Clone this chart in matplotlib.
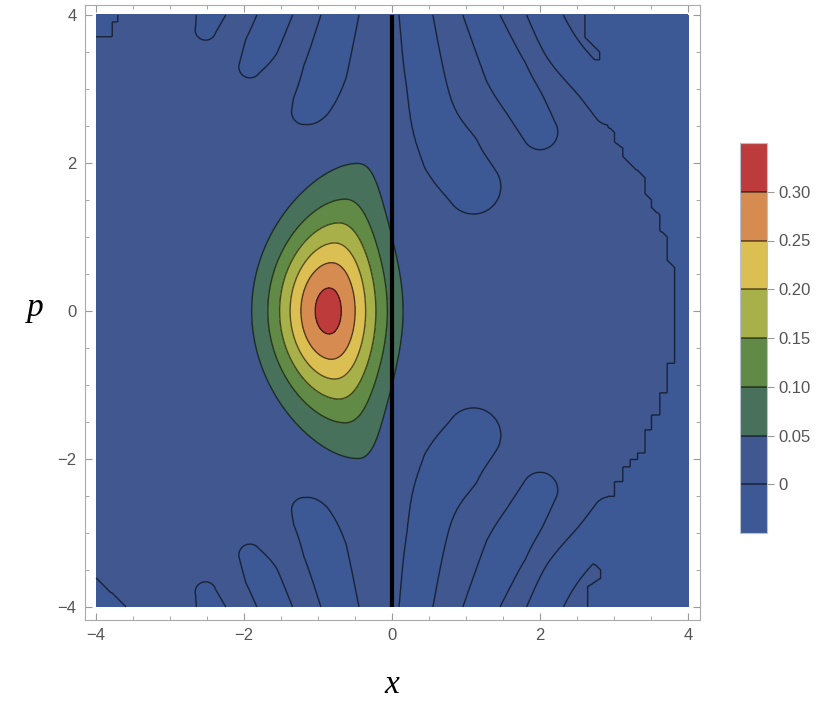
import numpy as np
import matplotlib
matplotlib.use("Agg")
import matplotlib.pyplot as plt
from matplotlib.path import Path
from matplotlib.ticker import MultipleLocator

# contour levels and the colour of each band (lowest band first)
levels = [-0.05, 0.0, 0.05, 0.10, 0.15, 0.20, 0.25, 0.30, 0.35]
band_colors = ['#3c5895', '#40578f', '#48715c', '#608a45',
               '#a8b04a', '#dbbf52', '#d68c50', '#be3b3c']
line_levels = [0.0, 0.05, 0.10, 0.15, 0.20, 0.25, 0.30]
bar_labels = ['0', '0.05', '0.10', '0.15', '0.20', '0.25', '0.30']

# central peak
peak_value = 0.317
peak_x = -0.86
bend = 0.10          # ridge moves to +x with p^2
width_left = 0.58    # x spread left of the ridge
spread_left = 0.05
width_right = 0.55   # x spread right of the ridge
squeeze_right = 0.25
width_p2 = 1.75
tail_p = 0.10

# negative fingers in the upper half (x, p spine points and half widths);
# the lower half is the mirror image in p
finger_spines = [
    [(-2.40, 4.20), (-2.52, 3.80)],
    [(-1.52, 4.15), (-1.76, 3.59), (-1.92, 3.30)],
    [(-0.66, 4.15), (-0.905, 3.23), (-1.07, 2.81), (-1.18, 2.69)],
    [(0.30, 4.15), (0.51, 2.78), (0.80, 2.11), (1.10, 1.68)],
    [(1.135, 4.15), (1.54, 3.23), (1.80, 2.78), (2.00, 2.42)],
    [(1.99, 4.15), (2.30, 3.55), (2.72, 3.05), (2.95, 2.75)],
]
finger_widths = [
    [0.24, 0.14],
    [0.22, 0.23, 0.15],
    [0.24, 0.30, 0.27, 0.18],
    [0.22, 0.30, 0.40, 0.37],
    [0.22, 0.29, 0.27, 0.24],
    [0.22, 0.24, 0.24, 0.24],
]

# jagged zero line on the right (region to its right is below zero)
stair_x = [2.61, 2.61, 2.81, 2.81, 2.71, 2.61, 2.81, 2.81, 2.81, 2.92, 2.92,
           3.01, 3.01, 3.12, 3.12, 3.42, 3.42, 3.51, 3.51, 3.62, 3.62, 3.72,
           3.72, 3.82, 3.82, 3.72, 3.72, 3.62, 3.62, 3.51, 3.51, 3.42, 3.42,
           3.32, 3.32, 3.22, 3.22, 3.12, 3.12, 3.01, 3.01, 2.92, 2.92, 2.72,
           2.72, 2.81, 2.82, 2.72, 2.72, 2.82, 2.82, 2.64, 2.64]
stair_p = [4.2, 3.69, 3.50, 3.39, 3.39, 3.30, 2.99, 2.81, 2.69, 2.61, 2.49,
           2.41, 2.28, 2.20, 2.08, 1.80, 1.59, 1.50, 1.39, 1.30, 1.09, 1.00,
           0.69, 0.59, -0.70, -0.70, -1.11, -1.11, -1.41, -1.41, -1.61, -1.61,
           -1.92, -1.92, -2.01, -2.01, -2.11, -2.11, -2.31, -2.31, -2.51,
           -2.51, -2.72, -2.72, -2.80, -2.92, -3.14, -3.23, -3.41, -3.50,
           -3.61, -3.73, -4.2]
# small corner pieces on the left
corner_tl_x = [-4.2, -3.70, -3.70, -3.78, -3.78, -4.2]
corner_tl_p = [4.2, 4.2, 3.91, 3.91, 3.70, 3.70]
corner_bl_x = [-4.2, -3.38, -4.2]
corner_bl_p = [-3.42, -4.2, -4.2]

divider_x = 0.0
x_range = (-4, 4)
p_range = (-4, 4)


def smooth_spine(pts, widths, n=8):
    # Catmull-Rom through the read points so the fingers bend smoothly
    pts = np.asarray(pts, float)
    widths = np.asarray(widths, float)
    if len(pts) < 3:
        return pts, widths
    ext = np.vstack([2 * pts[0] - pts[1], pts, 2 * pts[-1] - pts[-2]])
    out, ow = [], []
    for i in range(1, len(ext) - 2):
        p0, p1, p2, p3 = ext[i - 1], ext[i], ext[i + 1], ext[i + 2]
        for t in np.linspace(0, 1, n, endpoint=False):
            out.append(0.5 * (2 * p1 + (p2 - p0) * t
                              + (2 * p0 - 5 * p1 + 4 * p2 - p3) * t**2
                              + (3 * p1 - p0 - 3 * p2 + p3) * t**3))
            ow.append(widths[i - 1] + (widths[i] - widths[i - 1]) * t)
    out.append(pts[-1])
    ow.append(widths[-1])
    return np.array(out), np.array(ow)


def spine_field(X, P, pts, widths):
    # positive inside a tapered tube round the spine
    s = np.full(X.shape, -np.inf)
    for (x0, p0), (x1, p1), w0, w1 in zip(pts[:-1], pts[1:], widths[:-1], widths[1:]):
        dx, dp = x1 - x0, p1 - p0
        t = np.clip(((X - x0) * dx + (P - p0) * dp) / (dx * dx + dp * dp), 0, 1)
        d = np.hypot(X - (x0 + t * dx), P - (p0 + t * dp))
        s = np.maximum(s, w0 + t * (w1 - w0) - d)
    return s


def polygon_field(X, P, vx, vp):
    inside = Path(np.column_stack([vx, vp])).contains_points(
        np.column_stack([X.ravel(), P.ravel()])).reshape(X.shape)
    return np.where(inside, 0.05, -0.05)


xs = np.linspace(*x_range, 641)
ps = np.linspace(*p_range, 641)
X, P = np.meshgrid(xs, ps)

ridge = peak_x + bend * P**2
spread = np.where(X < ridge, width_left * (1 + spread_left * P**2),
                  width_right / (1 + squeeze_right * P**2))
W = peak_value * np.exp(-(X - ridge)**2 / spread - P**2 / (width_p2 + tail_p * P**2))

S = np.full(X.shape, -np.inf)
for pts, ws in zip(finger_spines, finger_widths):
    sp, sw = smooth_spine(pts, ws)
    S = np.maximum(S, spine_field(X, P, sp, sw))
    S = np.maximum(S, spine_field(X, P, sp * [1, -1], sw))
S = np.maximum(S, polygon_field(X, P, stair_x + [4.2, 4.2], stair_p + [-4.2, 4.2]))
S = np.maximum(S, polygon_field(X, P, corner_tl_x, corner_tl_p))
S = np.maximum(S, polygon_field(X, P, corner_bl_x, corner_bl_p))

Z = W - 0.03 * np.tanh(S / 0.02) * np.exp(-W / 0.01)

fig = plt.figure(figsize=(8.3, 7.09), dpi=100)
ax = fig.add_axes([85 / 830, 1 - 620 / 709, 615 / 830, 615 / 709])

cf = ax.contourf(X, P, Z, levels=levels, colors=band_colors)
ax.contour(X, P, Z, levels=line_levels, colors='k', linewidths=1.0, alpha=0.6)
ax.vlines(divider_x, *p_range, colors='k', linewidth=3, zorder=5)

ax.set_xlim(-4.149, 4.162)
ax.set_ylim(-4.176, 4.135)
ax.xaxis.set_major_locator(MultipleLocator(2))
ax.yaxis.set_major_locator(MultipleLocator(2))
ax.xaxis.set_minor_locator(MultipleLocator(0.5))
ax.yaxis.set_minor_locator(MultipleLocator(0.5))
ax.tick_params(which='both', direction='in', top=True, right=True, color='#999999')
ax.tick_params(which='major', length=5, width=0.8, labelsize=12, labelcolor='#555555', pad=6)
ax.tick_params(which='minor', length=3, width=0.6)
for lab in ax.get_xticklabels() + ax.get_yticklabels():
    lab.set_family('Liberation Sans')
for sp in ax.spines.values():
    sp.set_color('#aaaaaa')

fig.text(392 / 830, 1 - 685 / 709, 'x', ha='center', va='center', fontsize=24,
         family='Liberation Serif', style='italic')
fig.text(35 / 830, 1 - 308 / 709, 'p', ha='center', va='center', fontsize=24,
         family='Liberation Serif', style='italic')

cax = fig.add_axes([740 / 830, 1 - 533 / 709, 27 / 830, 390 / 709])
cb = fig.colorbar(cf, cax=cax, ticks=line_levels)
cb.ax.set_yticklabels(bar_labels)
for lev in line_levels:
    cax.axhline(lev, color='k', lw=1.1, alpha=0.6)
cb.outline.set_edgecolor('#b8c0d0')
cb.outline.set_linewidth(0.8)
cax.tick_params(direction='out', length=5, width=0.8, color='#999999',
                labelsize=12, labelcolor='#555555', pad=3)
for lab in cax.get_yticklabels():
    lab.set_family('Liberation Sans')

fig.savefig('out.png', dpi=100)
